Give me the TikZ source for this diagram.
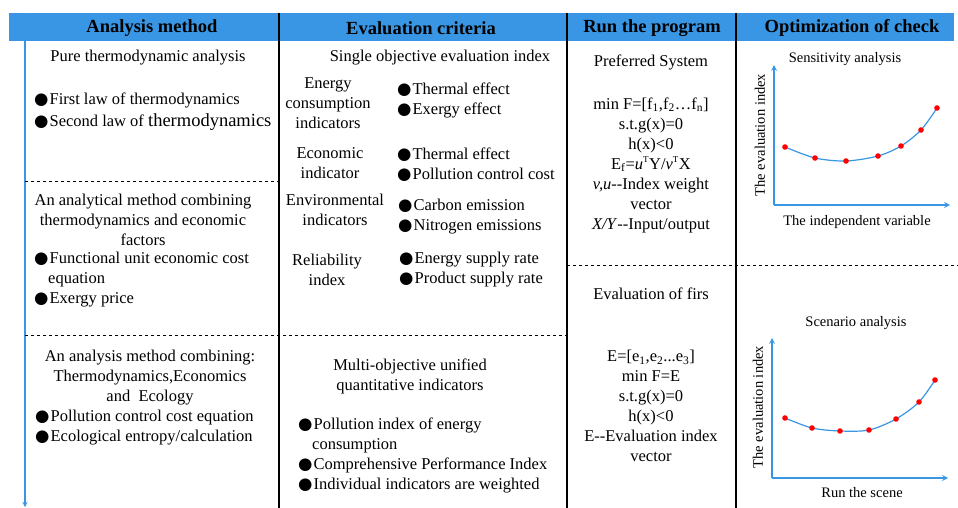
\documentclass[tikz,border=0pt]{standalone}
\usepackage{fontspec}
\setmainfont{Liberation Serif}
\newfontfamily\symfont{DejaVu Sans}
\usepackage{tikz}
\usetikzlibrary{arrows,positioning,shapes}
\definecolor{bandblue}{RGB}{56,150,229}
\newcommand{\bul}{{\symfont ●}\hspace{1pt}}
\newcommand{\bulsp}{\hspace*{14pt}}
\newcommand{\dd}{-\kern0pt-}
\newcommand{\supT}{\textsuperscript{\fontsize{9}{9}\selectfont T}}
\tikzstyle{txt} = [font=\fontsize{16.5}{20}\selectfont, align=center, inner sep=0pt]
\tikzstyle{lst} = [txt, align=left, anchor=west]
\tikzstyle{hdr} = [font=\bfseries\fontsize{18.5}{22}\selectfont, inner sep=0pt]
\tikzstyle{lbl} = [font=\fontsize{14.5}{17}\selectfont, inner sep=0pt]
\tikzstyle{axis} = [bandblue, line width=1.6pt, ->, >=stealth]
\tikzstyle{colline} = [line width=1.3pt]
\tikzstyle{sepline} = [dashed, line width=0.9pt]
\begin{document}
\begin{tikzpicture}[x=1pt,y=-1pt]
  \useasboundingbox (0,0) rectangle (958,508);
  % header band
  \fill[bandblue] (9,13) rectangle (954,41);
  \node[hdr] (h1) at (152,28) {Analysis method};
  \node[hdr] (h2) at (421,28) {Evaluation criteria};
  \node[hdr] (h3) at (652,28) {Run the program};
  \node[hdr] (h4) at (852,28) {Optimization of check};

  \foreach \cx in {279,567,736}
    \draw[colline] (\cx,13) -- (\cx,508);

  \coordinate (lt) at (25,13);
  \coordinate (lb) at (25,507);
  \draw[bandblue, line width=1.3pt, ->, >=stealth] (lt) -- (lb);

  \draw[sepline] (25,181) -- (279,181);
  \draw[sepline] (25,335) -- (567,335);
  \draw[sepline] (567,265) -- (958,265);

  % analysis method
  \node[txt] (pure) at (148,58) {Pure thermodynamic analysis};
  \node[lst] (purel) at (34,112) {\bul First law of thermodynamics\\[2pt]\bul Second law of {\fontsize{18.5}{20}\selectfont thermodynamics}};
  \node[txt] (econ) at (143,220) {An analytical method combining\\thermodynamics and economic\\factors};
  \node[lst] (econl) at (34,280) {\bul Functional unit economic cost\\\bulsp equation\\\bul Exergy price};
  \node[txt] (ecol) at (150,378) {An analysis method combining:\\Thermodynamics,Economics\\and\ \ Ecology};
  \node[lst] (ecoll) at (35,428) {\bul Pollution control cost equation\\\bul Ecological entropy/calculation};

  % evaluation criteria
  \node[txt] (single) at (440,58) {Single objective evaluation index};
  \node[txt] (ind1) at (328,103) {Energy\\consumption\\indicators};
  \node[lst] (ind1l) at (397,100) {\bul Thermal effect\\\bul Exergy effect};
  \node[txt] (ind2) at (330,163) {Economic\\indicator};
  \node[lst] (ind2l) at (397,165) {\bul Thermal effect\\\bul Pollution control cost};
  \node[txt] (ind3) at (335,210) {Environmental\\indicators};
  \node[lst] (ind3l) at (398,217) {\bul Carbon emission\\\bul Nitrogen emissions};
  \node[txt] (ind4) at (327,270) {Reliability\\index};
  \node[lst] (ind4l) at (399,270) {\bul Energy supply rate\\\bul Product supply rate};
  \node[txt] (multi) at (410,376) {Multi-objective unified\\quantitative indicators};
  \node[lst] (multil) at (298,455) {\bul Pollution index of energy\\\bulsp consumption\\\bul Comprehensive Performance Index\\\bul Individual indicators are weighted};

  % run the program
  \node[txt] (pref) at (651,62) {Preferred System};
  \node[txt] (prefm) at (651,165) {min F=[f\textsubscript{1},f\textsubscript{2}…f\textsubscript{n}]\\s.t.g(x)=0\\h(x)<0\\E\textsubscript{f}=\textit{u}\supT Y/\textit{v}\supT X\\\textit{v,u}\dd Index weight\\vector\\\textit{X/Y}\dd Input/output};
  \node[txt] (firs) at (651,294) {Evaluation of firs};
  \node[txt] (firsm) at (651,406) {E=[e\textsubscript{1},e\textsubscript{2}...e\textsubscript{3}]\\min F=E\\s.t.g(x)=0\\h(x)<0\\E\dd Evaluation index\\vector};

  % optimization of check
  \node[lbl] (sens) at (845,59) {Sensitivity analysis};
  \coordinate (o1) at (774,205);
  \coordinate (y1) at (774,65);
  \coordinate (x1) at (950,205);
  \draw[axis] (o1) -- (y1);
  \draw[axis] (o1) -- (x1);
  \node[lbl, rotate=90] (sensy) at (760,135) {The evaluation index};
  \node[lbl] (sensx) at (857,222) {The independent variable};
  \foreach \px/\py [count=\i] in {785/147,815/158,846/161,878/156,901/146,921/130,937/108}
    \coordinate (s\i) at (\px,\py);
  \draw[bandblue, line width=1.2pt] plot[smooth] coordinates {(s1) (s2) (s3) (s4) (s5) (s6) (s7)};
  \foreach \i in {1,...,7}
    \fill[red] (s\i) circle (2.8pt);

  \node[lbl] (scen) at (856,323) {Scenario analysis};
  \coordinate (o2) at (772,478);
  \coordinate (y2) at (772,338);
  \coordinate (x2) at (948,478);
  \draw[axis] (o2) -- (y2);
  \draw[axis] (o2) -- (x2);
  \node[lbl, rotate=90] (sceny) at (758,407) {The evaluation index};
  \node[lbl] (scenx) at (862,493) {Run the scene};
  \foreach \px/\py [count=\i] in {785/418,812/428,840/431,869/430,896/419,919/402,935/380}
    \coordinate (r\i) at (\px,\py);
  \draw[bandblue, line width=1.2pt] plot[smooth] coordinates {(r1) (r2) (r3) (r4) (r5) (r6) (r7)};
  \foreach \i in {1,...,7}
    \fill[red] (r\i) circle (2.8pt);
\end{tikzpicture}
\end{document}
